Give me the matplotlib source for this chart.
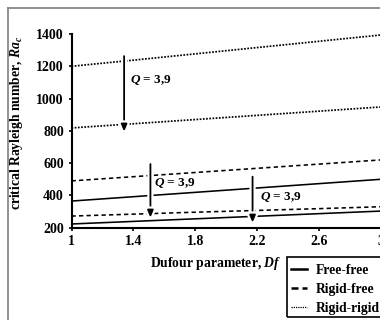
import matplotlib
matplotlib.use('Agg')
import matplotlib.pyplot as plt
import matplotlib.patheffects as pe
from matplotlib.lines import Line2D
from matplotlib.patches import Rectangle

plt.rcParams['font.family'] = ['Liberation Serif', 'DejaVu Serif']
plt.rcParams['font.weight'] = 'bold'
plt.rcParams['mathtext.fontset'] = 'custom'
plt.rcParams['mathtext.it'] = 'Liberation Serif:italic:bold'
plt.rcParams['mathtext.rm'] = 'Liberation Serif:bold'

# Dufour parameter
df = [1.0, 1.4, 1.8, 2.2, 2.6, 3.0]

# critical Rayleigh numbers, Q = 3 (lower curve) and Q = 9 (upper curve)
free_free_q3 = [223, 239, 255, 271, 287, 303]
free_free_q9 = [365, 392, 419, 446, 473, 500]
rigid_free_q3 = [272, 284, 296, 307, 318, 330]
rigid_free_q9 = [490, 516, 542, 568, 594, 620]
rigid_rigid_q3 = [818, 844, 870, 896, 922, 948]
rigid_rigid_q9 = [1200, 1238, 1277, 1316, 1355, 1394]

# arrows: (Df, start Ra, end Ra) and label positions
arrows = [(1.34, 1263, 795), (1.51, 594, 262), (2.17, 516, 231)]
q_labels = [(1.38, 1115), (1.535, 478), (2.22, 392)]

fig = plt.figure(figsize=(3.8, 3.2), dpi=100)
ax = fig.add_axes([71.5 / 380, 92.3 / 320, 309.5 / 380, 193.7 / 320])

lw = 1.15
dash = (0, (2.7, 2.0))
dot = (0, (1, 0.85))
ax.plot(df, free_free_q3, color='black', lw=lw, ls='-')
ax.plot(df, free_free_q9, color='black', lw=lw, ls='-')
ax.plot(df, rigid_free_q3, color='black', lw=lw, ls=dash)
ax.plot(df, rigid_free_q9, color='black', lw=lw, ls=dash)
ax.plot(df, rigid_rigid_q3, color='black', lw=1.25, ls=dot)
ax.plot(df, rigid_rigid_q9, color='black', lw=1.25, ls=dot)

for x, y0, y1 in arrows:
    ann = ax.annotate('', xy=(x, y1), xytext=(x, y0),
                      arrowprops=dict(arrowstyle='-|>,head_width=0.25,head_length=0.6',
                                      color='black', lw=1.3,
                                      mutation_scale=7, shrinkA=0, shrinkB=0))
    ann.arrow_patch.set_path_effects([pe.Stroke(linewidth=4.5, foreground='white'),
                                      pe.Normal()])

for x, y in q_labels:
    ax.text(x, y, r'$Q$ = 3,9', fontsize=9.5, fontweight='bold', va='center', ha='left')

ax.set_xlim(1, 3)
ax.set_ylim(200, 1400)
ax.set_xticks([1, 1.4, 1.8, 2.2, 2.6, 3])
ax.set_xticklabels(['1', '1.4', '1.8', '2.2', '2.6', '3'])
ax.set_yticks([200, 400, 600, 800, 1000, 1200, 1400])
ax.spines['top'].set_visible(False)
ax.spines['right'].set_visible(False)
ax.spines['left'].set_linewidth(1.5)
ax.spines['bottom'].set_linewidth(1.5)
ax.tick_params(direction='out', length=2.5, width=1.2, labelsize=10, pad=3)
for lab in ax.get_xticklabels() + ax.get_yticklabels():
    lab.set_fontweight('bold')
ax.get_xticklabels()[-1].set_clip_on(False)

fig.text(216 / 380, 1 - 263 / 320, r'Dufour parameter, $Df$', fontsize=9.8,
         fontweight='bold', ha='center', va='center')
fig.text(17 / 380, 1 - 123 / 320, r'critical Rayleigh number, $Ra_c$', fontsize=9.8,
         fontweight='bold', ha='center', va='center', rotation=90)

# outer frame
fig.add_artist(Line2D([8 / 380, 8 / 380], [0, 1 - 8 / 320], transform=fig.transFigure,
                      color='#7f7f7f', lw=1.2))
fig.add_artist(Line2D([8 / 380, 1], [1 - 8 / 320, 1 - 8 / 320], transform=fig.transFigure,
                      color='#7f7f7f', lw=1.2))

# legend entries with a separate box around them
handles = [Line2D([], [], color='black', lw=1.8, ls='-'),
           Line2D([], [], color='black', lw=1.8, ls=(0, (2.8, 1.6))),
           Line2D([], [], color='black', lw=0.9, ls=(0, (1, 0.8)))]
fig.legend(handles, ['Free-free', 'Rigid-free', 'Rigid-rigid'],
           loc='upper left', bbox_to_anchor=(291 / 380, 1 - 264 / 320),
           frameon=False, handlelength=1.2, handletextpad=0.6, borderpad=0,
           labelspacing=0.45, borderaxespad=0, prop={'size': 9.8, 'weight': 'bold'})
fig.add_artist(Rectangle((287 / 380, 1 - 316.5 / 320), 110 / 380, 59.5 / 320,
                         transform=fig.transFigure, fill=False, edgecolor='black',
                         lw=1.2, clip_on=False))

fig.savefig('out.png', dpi=100)
